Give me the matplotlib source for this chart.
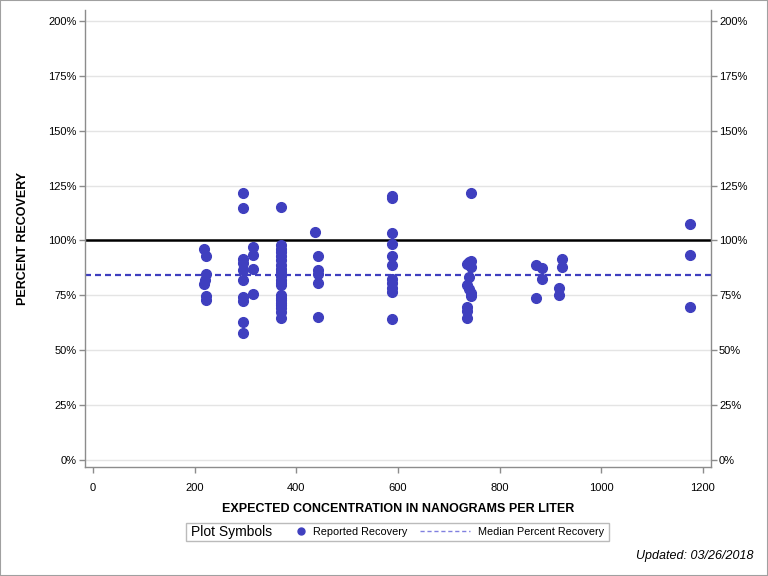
import matplotlib
matplotlib.use("Agg")
import matplotlib.pyplot as plt
from matplotlib.lines import Line2D
from matplotlib.ticker import FuncFormatter
from matplotlib.patches import Rectangle

plt.rcParams['font.family'] = ['Liberation Sans', 'DejaVu Sans']

# Data: expected concentration (ng/L) and percent recovery
conc_220 = [218, 222, 222, 220, 218, 222, 222]
rec_220 = [96.1, 93.0, 84.8, 82.0, 80.2, 74.7, 72.9]

conc_295 = [295] * 10
rec_295 = [121.6, 114.8, 91.6, 89.7, 86.6, 82.0, 74.3, 72.4, 62.9, 57.9]

conc_315 = [315] * 4
rec_315 = [97.0, 93.4, 87.0, 75.6]

conc_370 = [370] * 21
rec_370 = [115.3, 98.0, 96.0, 94.6, 93.0, 91.1, 88.8, 87.0, 85.6, 83.8, 82.0,
           80.6, 79.7, 75.2, 73.8, 72.9, 71.5, 70.6, 69.2, 67.4, 64.7]

conc_440 = [437, 443, 443, 443, 443, 443]
rec_440 = [104.0, 93.0, 86.6, 84.7, 80.6, 65.1]

conc_588 = [588] * 11
rec_588 = [119.4, 120.2, 103.2, 98.4, 93.0, 88.8, 82.5, 80.6, 78.4, 76.5, 64.2]

conc_740 = [744, 740, 744, 735, 744, 740, 735, 740, 744, 744, 735, 735, 735]
rec_740 = [121.6, 90.2, 90.7, 89.3, 88.0, 83.4, 79.7, 77.9, 76.0, 74.7, 69.7, 67.9, 64.7]

conc_900 = [872, 872, 883, 883, 917, 917, 923, 923]
rec_900 = [88.8, 73.8, 87.5, 82.5, 78.4, 75.2, 91.6, 87.9]

conc_1175 = [1175, 1175, 1175]
rec_1175 = [107.5, 93.4, 69.7]

median_recovery = 84.3
reference_line = 100

x_ticks = [0, 200, 400, 600, 800, 1000, 1200]
y_ticks = [0, 25, 50, 75, 100, 125, 150, 175, 200]

conc = conc_220 + conc_295 + conc_315 + conc_370 + conc_440 + conc_588 + conc_740 + conc_900 + conc_1175
rec = rec_220 + rec_295 + rec_315 + rec_370 + rec_440 + rec_588 + rec_740 + rec_900 + rec_1175

color = '#3F3FBF'
spine_gray = '#8C8C8C'

fig = plt.figure(figsize=(7.68, 5.76), dpi=100)
fig.patch.set_facecolor('white')
ax = fig.add_axes([85/768, 1-467/576, (711-85)/768, (467-10)/576])

ax.set_xlim(-15.7, 1215.8)
ax.set_ylim(-3.2, 205.0)

for y in y_ticks:
    ax.axhline(y, color='#E4E4E4', lw=1, zorder=0)

ax.axhline(reference_line, color='black', lw=1.8, zorder=2)
ax.axhline(median_recovery, color=color, lw=1.6, ls=(0, (2.7, 1.8)), zorder=2)
ax.plot(conc, rec, 'o', color=color, ms=7, mec=color, zorder=3)

ax.set_xticks(x_ticks)
ax.set_yticks(y_ticks)
ax.yaxis.set_major_formatter(FuncFormatter(lambda v, p: f"{int(v)}%"))
ax.tick_params(axis='both', labelsize=8, color=spine_gray, length=4.3, width=1)
ax.tick_params(axis='y', right=True, labelright=True, pad=1.5)
ax.tick_params(axis='x', pad=7)
for s in ax.spines.values():
    s.set_color(spine_gray)
    s.set_linewidth(1)
ax.spines['top'].set_visible(False)

ax.set_xlabel('EXPECTED CONCENTRATION IN NANOGRAMS PER LITER', fontsize=9, fontweight='bold')
ax.set_ylabel('PERCENT RECOVERY', fontsize=9, fontweight='bold')
ax.xaxis.set_label_coords(0.5, (467-503)/457)
ax.yaxis.set_label_coords((29-85)/626, 0.5)

# Legend box
fig.add_artist(Rectangle((186/768, 1-541/576), (609-186)/768, 18/576, transform=fig.transFigure,
                         fill=False, edgecolor='#BBBBBB', lw=1))
fig.text(191/768, 1-532/576, 'Plot Symbols', ha='left', va='center', fontsize=10)
h_pts = [Line2D([], [], marker='o', linestyle='none', color=color, ms=5, label='Reported Recovery')]
h_med = [Line2D([], [], color='#8080E0', lw=1, ls=(0, (3, 2)), label='Median Percent Recovery')]
leg1 = fig.legend(handles=h_pts, loc='center left', bbox_to_anchor=(296/768, 1-532/576),
                  fontsize=7.8, frameon=False, handlelength=1.0, handletextpad=0.6,
                  borderpad=0.0, borderaxespad=0)
leg2 = fig.legend(handles=h_med, loc='center left', bbox_to_anchor=(420/768, 1-532/576),
                  fontsize=7.8, frameon=False, handlelength=4.6, handletextpad=0.74,
                  borderpad=0.0, borderaxespad=0)

fig.text(753/768, 1-556/576, 'Updated: 03/26/2018', ha='right', va='center', fontsize=9, style='italic')

fig.add_artist(Rectangle((0, 0), 1, 1, transform=fig.transFigure, fill=False,
                         edgecolor='#A0A0A0', lw=1.5))

fig.savefig('out.png', dpi=100)
